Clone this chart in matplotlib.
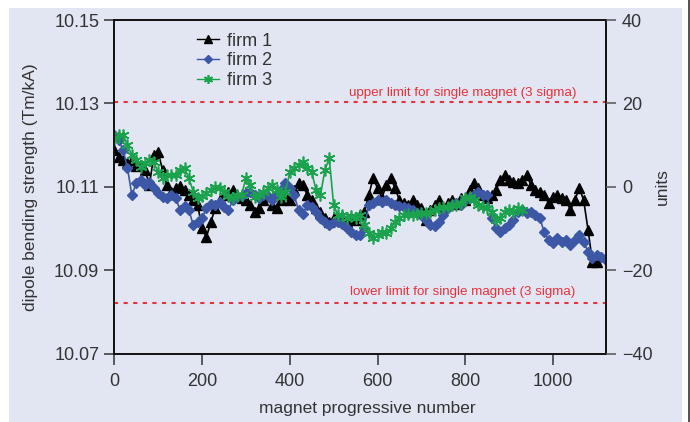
import numpy as np
import matplotlib
matplotlib.use("Agg")
import matplotlib.pyplot as plt
from matplotlib.patches import Rectangle

plt.rcParams['font.family'] = ['Liberation Sans', 'DejaVu Sans']

# deviation from 10.11 Tm/kA, in units (1 unit = 0.001 Tm/kA), one value every 10 magnets
firm1_units = [8.8, 7.1, 6.4, 5.7, 6.4, 5.0, 5.2, 4.0, 0.4, 7.6,
               8.3, 4.0, 0.4, -1.2, -0.3, 0.2, -0.8, -2.0, -3.2, -4.4,
               -9.9, -12.0, -8.5, -5.1, -3.2, -2.0, -1.2, -0.8, -2.0, -2.7,
               -3.2, -4.4, -6.0, -5.1, -3.2, -2.2, -4.4, -5.1, -3.2, -2.0,
               -3.2, -0.8, 0.9, 0.4, -2.0, -3.2, -5.1, -6.0, -7.5, -8.5,
               -7.5, -8.0, -7.0, -8.5, -7.5, -8.0, -6.8, -6.0, -2.0, 2.1,
               -0.3, -2.7, 0.4, 2.1, -0.3, -3.2, -3.9, -4.4, -3.2, -4.4,
               -5.1, -8.0, -5.6, -4.4, -3.2, -5.1, -3.9, -3.2, -4.1, -2.7,
               -3.2, -0.8, 0.9, -0.3, -2.0, -2.7, -2.0, -0.8, 1.6, 2.8,
               1.6, 1.2, 0.9, 1.6, 2.8, 0.4, -0.8, -1.2, -2.0, -3.9,
               -2.4, -2.0, -2.7, -3.2, -5.6, -3.2, -0.3, -3.2, -10.3, -18.0,
               -18.0]
firm2_units = [12.4, 11.2, 8.8, 4.5, -2.0, 0.9, 1.6, 0.4, 1.2, -0.3,
               -1.5, -2.4, -2.7, -2.0, -2.7, -5.6, -4.6, -5.6, -9.2, -8.5,
               -7.5, -5.1, -4.1, -4.4, -3.6, -4.8, -5.6, -3.2, -2.4, -2.2,
               -1.5, -1.2, -2.0, -2.7, -2.0, -2.2, -3.2, -1.7, -0.8, 0.9,
               -0.3, -2.0, -5.6, -6.5, -4.4, -4.8, -6.0, -7.5, -8.5, -9.2,
               -8.5, -8.5, -9.0, -9.9, -10.8, -11.6, -11.6, -9.9, -4.4, -3.9,
               -3.2, -3.6, -3.2, -3.9, -4.4, -4.6, -4.8, -5.1, -5.6, -6.3,
               -6.8, -8.0, -9.2, -9.4, -8.5, -6.8, -5.1, -4.4, -3.9, -4.4,
               -3.2, -2.4, -2.0, -1.2, -2.0, -2.0, -7.5, -9.9, -10.8, -9.9,
               -9.2, -8.0, -6.0, -5.6, -6.3, -6.0, -6.8, -7.5, -10.8, -12.8,
               -13.5, -12.3, -13.2, -12.8, -14.0, -12.8, -11.6, -13.2, -15.6, -17.1,
               -16.4, -16.8, -17.5]
firm3_units = [11.2, 12.4, 12.4, 10.0, 7.6, 6.4, 4.7, 5.7, 6.4, 5.9,
               3.5, 2.1, 2.8, 2.8, 2.8, 4.0, 4.5, 2.1, -1.2, -2.7,
               -2.2, -1.5, -0.8, 0.0, -0.3, -1.2, -2.2, -2.7, -2.0, -2.0,
               2.1, 0.4, -2.4, -2.0, -1.2, -0.3, 0.4, -0.8, -2.4, -1.2,
               3.5, 4.5, 5.2, 5.9, 4.5, 3.5, -0.8, -2.0, 4.0, 6.9,
               -4.4, -6.8, -6.8, -7.5, -7.0, -7.5, -6.8, -9.2, -11.1, -12.3,
               -11.6, -10.8, -11.1, -9.9, -8.5, -7.5, -6.8, -6.5, -6.8, -6.5,
               -6.3, -6.3, -6.0, -5.6, -5.1, -4.8, -4.8, -4.4, -4.4, -3.9,
               -2.7, -2.4, -3.2, -4.4, -4.8, -5.1, -6.0, -8.0, -7.5, -6.0,
               -5.6, -6.0, -5.1, -5.6]

nominal = 10.11
upper_limit = 10.1304
lower_limit = 10.0821

magnet = np.arange(0, 1130, 10)
bg = '#e2e6f3'
red = '#e8313a'
txt = '#333333'

fig = plt.figure(figsize=(6.9, 4.22), dpi=100, facecolor='white')
fig.add_artist(Rectangle((9 / 690, 0), (682 - 9) / 690, (422 - 8) / 422,
                         transform=fig.transFigure, facecolor=bg,
                         edgecolor='none', zorder=-10))
fig.add_artist(Rectangle((687.5 / 690, 0), 3 / 690, 1,
                         transform=fig.transFigure, facecolor='#555555',
                         edgecolor='none', zorder=-10))

ax = fig.add_axes([0.1657, 0.1619, 0.7126, 0.7907])
ax.set_facecolor(bg)

series = [
    ('firm 1', firm1_units, 'black', dict(marker='^', ms=7, mec='black', mfc='black')),
    ('firm 2', firm2_units, '#3b57a6', dict(marker='D', ms=5.5, mec='#3b57a6', mfc='#3b57a6')),
    ('firm 3', firm3_units, '#1ba24c', dict(marker=(6, 2, 0), ms=8.5, mec='#1ba24c', mew=1.2)),
]
for name, vals, col, mk in series:
    y = nominal + np.array(vals) / 1000.0
    ax.plot(magnet[:len(y)], y, color=col, lw=1.2, label=name, **mk)

ax.axhline(upper_limit, color=red, lw=1.5, ls=(0, (2, 2.6)))
ax.axhline(lower_limit, color=red, lw=1.5, ls=(0, (2, 2.6)))
ax.text(795, 10.1318, 'upper limit for single magnet (3 sigma)', color=red,
        ha='center', va='baseline', fontsize=9.6)
ax.text(795, 10.0841, 'lower limit for single magnet (3 sigma)', color=red,
        ha='center', va='baseline', fontsize=9.6)

ax.set_xlim(0, 1121)
ax.set_ylim(10.07, 10.15)
ax.set_xticks([0, 200, 400, 600, 800, 1000])
ax.set_yticks([10.07, 10.09, 10.11, 10.13, 10.15])
ax.set_yticklabels(['%.2f' % v for v in [10.07, 10.09, 10.11, 10.13, 10.15]])
ax.tick_params(axis='y', direction='out', length=7.2, width=1.1, color=txt,
               labelsize=13, labelcolor=txt, pad=3.6)
ax.tick_params(axis='x', direction='out', length=8, width=1.1, color=txt,
               labelsize=13, labelcolor=txt, pad=6)
for sp in ax.spines.values():
    sp.set_linewidth(1.4)
    sp.set_color('#111111')

ax.set_xlabel('magnet progressive number', fontsize=12.5, color=txt, va='center')
ax.xaxis.set_label_coords(0.514, -0.163)
ax.set_ylabel('dipole bending strength (Tm/kA)', fontsize=12.5, color=txt, va='center')
ax.yaxis.set_label_coords(-0.171, 0.5)

ax2 = ax.twinx()
ax2.set_ylim(-40, 40)
ax2.set_yticks([-40, -20, 0, 20, 40])
ax2.set_yticklabels(['\u221240', '\u221220', '0', '20', '40'])
ax2.tick_params(axis='y', direction='out', length=7.2, width=1.1, color='#555555',
                labelsize=13, labelcolor=txt, pad=4.3)
for sp in ax2.spines.values():
    sp.set_visible(False)
ax2.set_ylabel('units', fontsize=12.5, color=txt, va='center')
ax2.yaxis.set_label_coords(1.114, 0.5)

leg = ax.legend(loc='upper left', bbox_to_anchor=(0.168, 0.962), frameon=False,
                fontsize=13, handlelength=1.2, handletextpad=0.45,
                labelspacing=0.15, borderpad=0, borderaxespad=0)
for t in leg.get_texts():
    t.set_color(txt)
for h, s in zip(leg.legend_handles, [5.5, 4.5, 6.5]):
    h.set_markersize(s)
    h.set_linewidth(1.0)

fig.savefig('out.png', dpi=100, facecolor='white')
